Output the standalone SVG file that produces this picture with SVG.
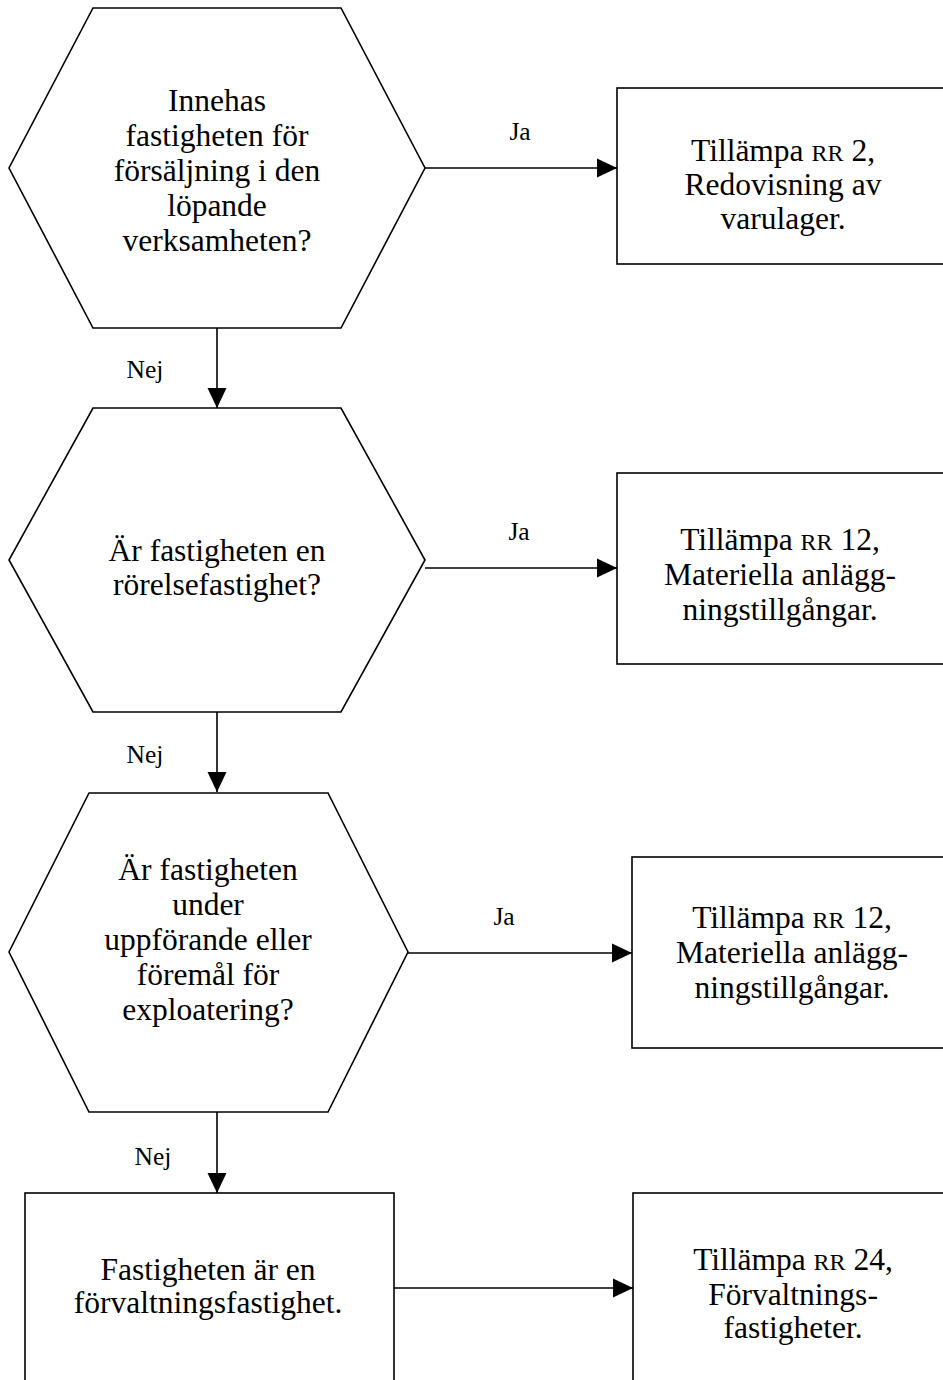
<svg xmlns="http://www.w3.org/2000/svg" width="943" height="1380" viewBox="0 0 943 1380">
<style>
.n{fill:#fff;stroke:#000;stroke-width:1.6}
.c line{stroke:#000;stroke-width:1.6}
text{font-family:"Liberation Serif","Times New Roman",serif;fill:#000;text-anchor:middle}
.t{font-size:31.5px}
.l{font-size:25.5px}
.sc{font-size:24px}
</style>
<defs>
<marker id="ah" markerWidth="20" markerHeight="20" refX="20" refY="10" orient="auto" markerUnits="userSpaceOnUse">
<path d="M0,0.5 L20,10 L0,19.5 Z" fill="#000"/>
</marker>
</defs>
<g id="connectors" class="c">
<line x1="217" y1="328" x2="217" y2="408" marker-end="url(#ah)"/>
<line x1="425" y1="168" x2="617" y2="168" marker-end="url(#ah)"/>
<line x1="217" y1="712" x2="217" y2="792" marker-end="url(#ah)"/>
<line x1="425" y1="568" x2="617" y2="568" marker-end="url(#ah)"/>
<line x1="217" y1="1112" x2="217" y2="1193" marker-end="url(#ah)"/>
<line x1="408" y1="953" x2="632" y2="953" marker-end="url(#ah)"/>
<line x1="394" y1="1288" x2="633" y2="1288" marker-end="url(#ah)"/>
<text class="l" x="145" y="378">Nej</text>
<text class="l" x="520" y="140">Ja</text>
<text class="l" x="145" y="763">Nej</text>
<text class="l" x="519" y="540">Ja</text>
<text class="l" x="153" y="1165">Nej</text>
<text class="l" x="504" y="925">Ja</text>
</g>
<g id="q1">
<polygon class="n" points="93,8 341,8 425,168 341,328 93,328 9,168"/>
<text class="t" x="217" y="111">Innehas</text>
<text class="t" x="217" y="146">fastigheten för</text>
<text class="t" x="217" y="181">försäljning i den</text>
<text class="t" x="217" y="216">löpande</text>
<text class="t" x="217" y="251">verksamheten?</text>
</g>
<g id="r1">
<rect class="n" x="617" y="88" width="340" height="176"/>
<text class="t" x="783" y="161">Tillämpa <tspan class="sc">RR</tspan> 2,</text>
<text class="t" x="783" y="195">Redovisning av</text>
<text class="t" x="783" y="229">varulager.</text>
</g>
<g id="q2">
<polygon class="n" points="93,408 341,408 425,560 341,712 93,712 9,560"/>
<text class="t" x="217" y="561">Är fastigheten en</text>
<text class="t" x="217" y="595">rörelsefastighet?</text>
</g>
<g id="r2">
<rect class="n" x="617" y="473" width="340" height="191"/>
<text class="t" x="780" y="550">Tillämpa <tspan class="sc">RR</tspan> 12,</text>
<text class="t" x="780" y="585">Materiella anlägg-</text>
<text class="t" x="780" y="620">ningstillgångar.</text>
</g>
<g id="q3">
<polygon class="n" points="89,793 328,793 408,952 328,1112 89,1112 9,952"/>
<text class="t" x="208" y="880">Är fastigheten</text>
<text class="t" x="208" y="915">under</text>
<text class="t" x="208" y="950">uppförande eller</text>
<text class="t" x="208" y="985">föremål för</text>
<text class="t" x="208" y="1020">exploatering?</text>
</g>
<g id="r3">
<rect class="n" x="632" y="857" width="330" height="191"/>
<text class="t" x="792" y="928">Tillämpa <tspan class="sc">RR</tspan> 12,</text>
<text class="t" x="792" y="963">Materiella anlägg-</text>
<text class="t" x="792" y="998">ningstillgångar.</text>
</g>
<g id="r4">
<rect class="n" x="25" y="1193" width="369" height="200"/>
<text class="t" x="208" y="1280">Fastigheten är en</text>
<text class="t" x="208" y="1313">förvaltningsfastighet.</text>
</g>
<g id="r5">
<rect class="n" x="633" y="1193" width="330" height="200"/>
<text class="t" x="793" y="1270">Tillämpa <tspan class="sc">RR</tspan> 24,</text>
<text class="t" x="793" y="1305">Förvaltnings-</text>
<text class="t" x="793" y="1338">fastigheter.</text>
</g>
</svg>
